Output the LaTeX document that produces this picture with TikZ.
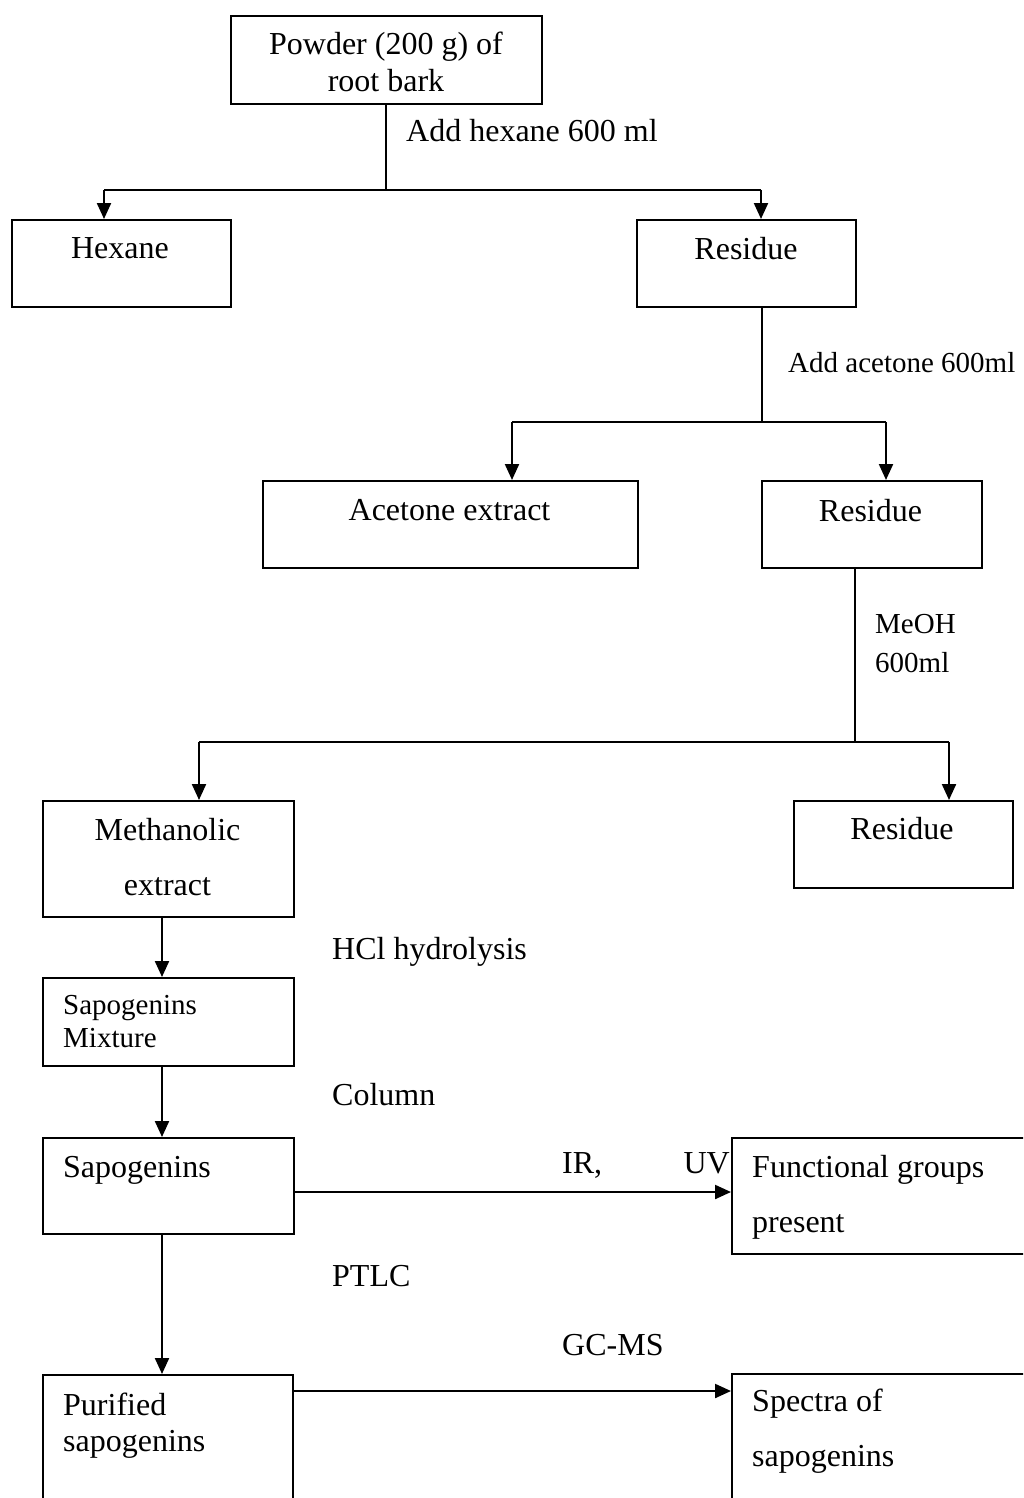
\documentclass[tikz,border=0pt]{standalone}
\usepackage{fontspec}
\setmainfont{Liberation Serif}
\usetikzlibrary{arrows.meta}
\begin{document}
\begin{tikzpicture}[x=1pt,y=-1pt,
  box/.style={draw, line width=2pt, rectangle, inner sep=0pt, anchor=north west},
  big/.style={font=\fontsize{32}{38}\selectfont, inner sep=0pt},
  small/.style={font=\fontsize{29}{35}\selectfont, inner sep=0pt},
  feed/.style={line width=1.4pt},
  bar/.style={line width=2.4pt},
  arr/.style={line width=2.2pt, -{Triangle[length=16pt,width=14pt]}}]
\useasboundingbox (0,0) rectangle (1023,1498);
\clip (0,0) rectangle (1023,1498);
% boxes
\node[box, minimum width=311pt, minimum height=88pt] (powder) at (230,15) {};
\node[box, minimum width=219pt, minimum height=87pt] (hexane) at (11,219) {};
\node[box, minimum width=219pt, minimum height=87pt] (resA) at (636,219) {};
\node[box, minimum width=375pt, minimum height=87pt] (acet) at (262,480) {};
\node[box, minimum width=220pt, minimum height=87pt] (resB) at (761,480) {};
\node[box, minimum width=251pt, minimum height=116pt] (meth) at (42,800) {};
\node[box, minimum width=219pt, minimum height=87pt] (resC) at (793,800) {};
\node[box, minimum width=251pt, minimum height=88pt] (mix) at (42,977) {};
\node[box, minimum width=251pt, minimum height=96pt] (sapo) at (42,1137) {};
\node[box, minimum width=330pt, minimum height=116pt] (func) at (731,1137) {};
\node[box, minimum width=250pt, minimum height=160pt] (puri) at (42,1374) {};
\node[box, minimum width=330pt, minimum height=160pt] (spec) at (731,1373) {};
% box texts
\node[big, anchor=base] (tPowderA) at (386,55) {Powder (200 g) of};
\node[big, anchor=base] (tPowderB) at (386,92) {root bark};
\node[big, anchor=base] (tHexane) at (120,258) {Hexane};
\node[big, anchor=base] (tResA) at (746,259) {Residue};
\node[big, anchor=base] (tAcet) at (449.5,520) {Acetone extract};
\node[big, anchor=base] (tResB) at (870.5,521) {Residue};
\node[big, anchor=base] (tMethA) at (167.5,840) {Methanolic};
\node[big, anchor=base] (tMethB) at (167.5,895) {extract};
\node[big, anchor=base] (tResC) at (902,839) {Residue};
\node[small, anchor=base west] (tMixA) at (63,1014) {Sapogenins};
\node[small, anchor=base west] (tMixB) at (63,1047) {Mixture};
\node[big, anchor=base west] (tSapo) at (63,1177) {Sapogenins};
\node[big, anchor=base west] (tFuncA) at (752,1177) {Functional groups};
\node[big, anchor=base west] (tFuncB) at (752,1232) {present};
\node[big, anchor=base west] (tPuriA) at (63,1415) {Purified};
\node[big, anchor=base west] (tPuriB) at (63,1451) {sapogenins};
\node[big, anchor=base west] (tSpecA) at (752,1411) {Spectra of};
\node[big, anchor=base west] (tSpecB) at (752,1466) {sapogenins};
% step labels
\node[big, anchor=base west] (lHex) at (406,142) {Add hexane 600 ml};
\node[small, anchor=base west] (lAce) at (788,372) {Add acetone 600ml};
\node[small, anchor=base west] (lMeA) at (875,633) {MeOH};
\node[small, anchor=base west] (lMeB) at (875,672) {600ml};
\node[big, anchor=base west] (lHCl) at (332,959) {HCl hydrolysis};
\node[big, anchor=base west] (lCol) at (332,1105) {Column};
\node[big, anchor=base west] (lIR) at (562,1173) {IR,};
\node[big, anchor=base east] (lUV) at (730,1173) {UV};
\node[big, anchor=base west] (lPTLC) at (332,1286) {PTLC};
\node[big, anchor=base west] (lGC) at (562,1355) {GC-MS};
% junction coordinates
\coordinate (jA) at (386,190);
\coordinate (jAL) at (104,190);
\coordinate (jAR) at (761,190);
\coordinate (jB) at (762,422);
\coordinate (jBL) at (512,422);
\coordinate (jBR) at (886,422);
\coordinate (jC) at (855,742);
\coordinate (jCL) at (199,742);
\coordinate (jCR) at (949,742);
\coordinate (vx) at (162,0);
\coordinate (hA) at (0,1192);
\coordinate (hB) at (0,1391);
% connectors
\draw[feed] (jA |- powder.south) -- (jA);
\draw[bar] (jAL) -- (jAR);
\draw[arr] (jAL) -- (jAL |- hexane.north);
\draw[arr] (jAR) -- (jAR |- resA.north);
\draw[feed] (jB |- resA.south) -- (jB);
\draw[bar] (jBL) -- (jBR);
\draw[arr] (jBL) -- (jBL |- acet.north);
\draw[arr] (jBR) -- (jBR |- resB.north);
\draw[feed] (jC |- resB.south) -- (jC);
\draw[bar] (jCL) -- (jCR);
\draw[arr] (jCL) -- (jCL |- meth.north);
\draw[arr] (jCR) -- (jCR |- resC.north);
\draw[arr] (vx |- meth.south) -- (vx |- mix.north);
\draw[arr] (vx |- mix.south) -- (vx |- sapo.north);
\draw[arr] (vx |- sapo.south) -- (vx |- puri.north);
\draw[arr] (sapo.east |- hA) -- (func.west |- hA);
\draw[arr] (puri.east |- hB) -- (spec.west |- hB);
\end{tikzpicture}
\end{document}
